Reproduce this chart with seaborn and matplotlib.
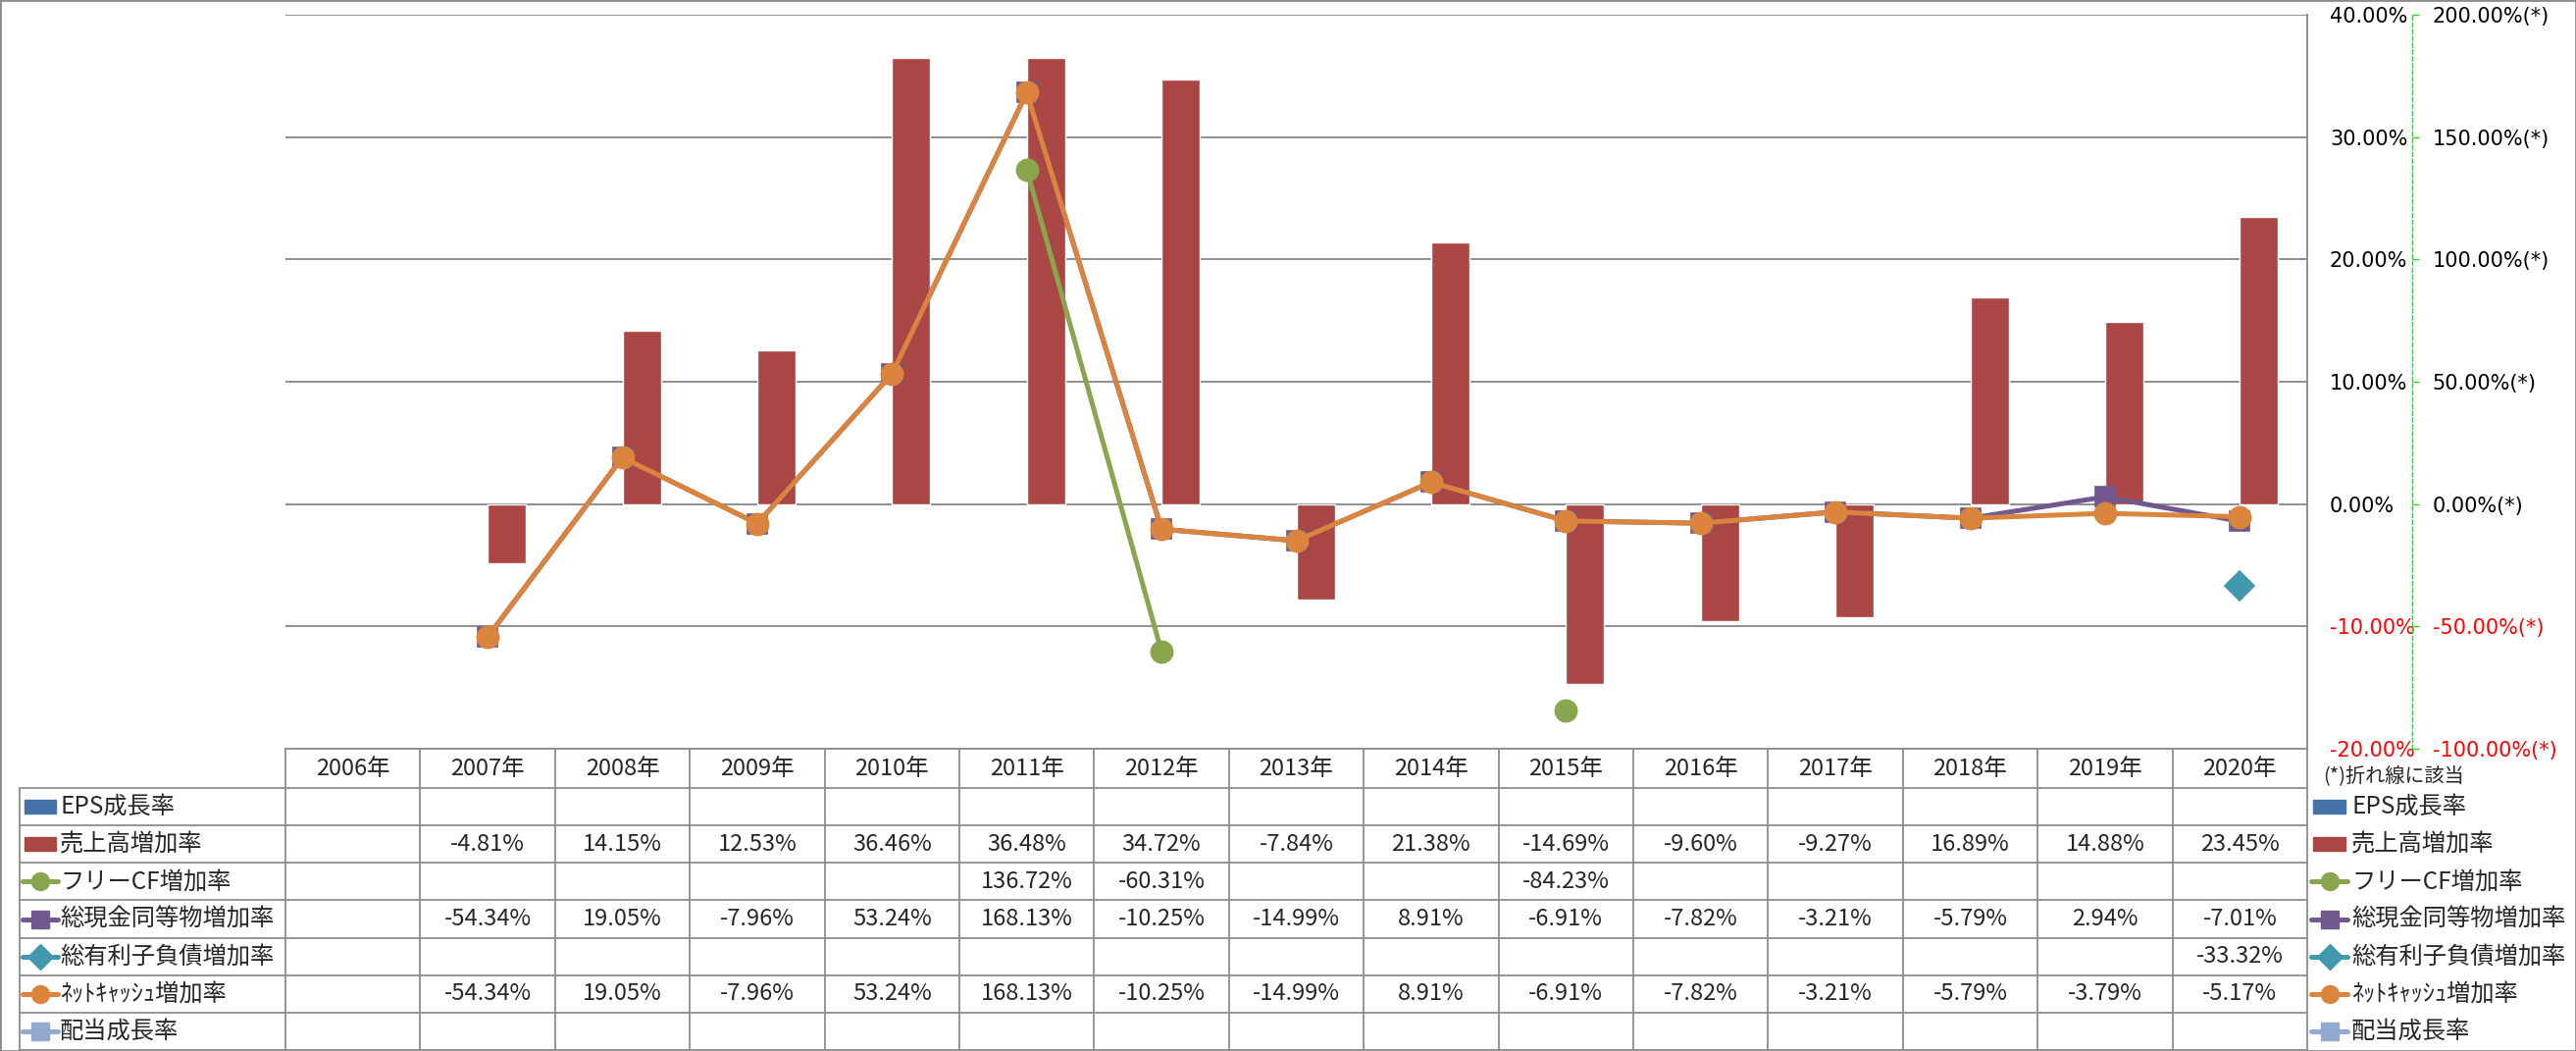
import numpy as np
import pandas as pd
import matplotlib
matplotlib.use("Agg")
import matplotlib.pyplot as plt
from matplotlib.lines import Line2D
from matplotlib.patches import Rectangle
import seaborn as sns

nan = np.nan
years = [f"{y}年" for y in range(2006, 2021)]
series_names = ["EPS成長率", "売上高増加率", "フリーCF増加率", "総現金同等物増加率",
                "総有利子負債増加率", "ﾈｯﾄｷｬｯｼｭ増加率", "配当成長率"]
eps = [nan] * 15
sales = [nan, -4.81, 14.15, 12.53, 36.46, 36.48, 34.72, -7.84, 21.38, -14.69,
         -9.60, -9.27, 16.89, 14.88, 23.45]
fcf = [nan, nan, nan, nan, nan, 136.72, -60.31, nan, nan, -84.23, nan, nan, nan, nan, nan]
cash = [nan, -54.34, 19.05, -7.96, 53.24, 168.13, -10.25, -14.99, 8.91, -6.91,
        -7.82, -3.21, -5.79, 2.94, -7.01]
debt = [nan] * 14 + [-33.32]
netcash = [nan, -54.34, 19.05, -7.96, 53.24, 168.13, -10.25, -14.99, 8.91, -6.91,
           -7.82, -3.21, -5.79, -3.79, -5.17]
dividend = [nan] * 15
left_ticks = [-20, -10, 0, 10, 20, 30, 40]
right_ticks = [-100, -50, 0, 50, 100, 150, 200]

colors = dict(zip(series_names, ["#4572A7", "#AA4643", "#89A54E", "#71588F",
                                 "#4198AF", "#DB843D", "#93A9CF"]))
markers = dict(zip(series_names[2:], ["o", "s", "D", "o", "s"]))
all_values = [eps, sales, fcf, cash, debt, netcash, dividend]

sns.set_theme(style="white")
plt.rcParams["font.family"] = ["DejaVu Sans"]
TABFONT = ["Liberation Sans Narrow", "Noto Sans CJK JP", "DejaVu Sans"]

W, H = 2626, 1071
fig = plt.figure(figsize=(W / 100, H / 100), dpi=100)
fig.patch.set_facecolor("white")

# pixel overlay for the data table
tab = fig.add_axes([0, 0, 1, 1])
tab.set_xlim(0, W)
tab.set_ylim(H, 0)
tab.axis("off")
tab.set_zorder(0)

PL, PR, PT, PB = 291, 2352, 15, 763
ax = fig.add_axes([PL / W, (H - PB) / H, (PR - PL) / W, (PB - PT) / H])
ax.set_zorder(1)

df = pd.DataFrame({"year": years, "value": sales, "series": "売上高増加率"}).dropna()
sns.barplot(data=df, x="year", y="value", hue="series", order=years,
            hue_order=["EPS成長率", "売上高増加率"], palette=colors, width=0.57,
            dodge=True, gap=0, saturation=1, errorbar=None, legend=False, ax=ax,
            zorder=2)
ax.set_xlim(-0.5, 14.5)
ax.set_ylim(-20, 40)
ax.set_xlabel("")
ax.set_ylabel("")
ax.grid(axis="y", color="#868686", lw=1.3)
ax.set_axisbelow(True)
for s in ["left", "top", "bottom"]:
    ax.spines[s].set_visible(False)
ax.spines["right"].set_color("#868686")
ax.spines["right"].set_linewidth(1.3)

ax2 = ax.twinx()
ax2.set_zorder(2)

# left-scale labels live on the right side too
ax.set_yticks(left_ticks)
ax.set_yticklabels([f"{t:.2f}%" for t in left_ticks])
ax.yaxis.tick_right()
ax.tick_params(axis="y", which="both", left=False, labelleft=False, right=True,
               labelright=True, length=0, pad=16.5, labelsize=15)
for lab, t in zip(ax.get_yticklabels(), left_ticks):
    lab.set_color("red" if t < 0 else "black")
ax.tick_params(axis="x", length=0, labelbottom=False)

ax2.set_ylim(-100, 200)
ax2.set_yticks(right_ticks)
ax2.set_yticklabels([f"{t:.2f}%(*)" for t in right_ticks])
ax2.spines["right"].set_position(("axes", (2459 - PL) / (PR - PL)))
ax2.spines["right"].set_color("#22DD22")
ax2.spines["right"].set_linestyle((0, (3, 2)))
ax2.spines["right"].set_linewidth(1)
for s in ["left", "top", "bottom"]:
    ax2.spines[s].set_visible(False)
ax2.tick_params(axis="y", length=5, width=1, color="#22DD22", pad=10, labelsize=15)
for lab, t in zip(ax2.get_yticklabels(), right_ticks):
    lab.set_color("red" if t < 0 else "black")

xpos = np.arange(len(years))
for name, vals in zip(series_names[2:], all_values[2:]):
    ms = {"o": 16, "s": 15, "D": 15.5}[markers[name]]
    ax2.plot(xpos, vals, color=colors[name], lw=3.6, marker=markers[name],
             markersize=ms, markeredgecolor=colors[name], markeredgewidth=1.2,
             solid_joinstyle="round")

# ---- data table ----
gc = "#8C8C8C"
col_w = (PR - PL) / 15
row_top = 803
row_h = (1070 - row_top) / 7
tab.plot([PL, PR], [PB, PB], color=gc, lw=1.3, clip_on=False)
for i in range(8):
    y = row_top + i * row_h
    tab.plot([20, PR], [y, y], color=gc, lw=1.3, clip_on=False)
tab.plot([20, 20], [row_top, 1070], color=gc, lw=1.3)
for j in range(16):
    x = PL + j * col_w
    tab.plot([x, x], [PB, 1070], color=gc, lw=1.3)
for j, yl in enumerate(years):
    tab.text(PL + (j + 0.5) * col_w, 783, yl, ha="center", va="center",
             fontsize=17, family=TABFONT)


def legend_key(x0, x1, yc, name):
    if name in ("EPS成長率", "売上高増加率"):
        tab.add_patch(Rectangle((x0 + 2, yc - 7), x1 - x0 - 4, 14, color=colors[name]))
    else:
        tab.add_line(Line2D([x0, x1], [yc, yc], color=colors[name], lw=3.6))
        tab.add_line(Line2D([(x0 + x1) / 2], [yc], color=colors[name], lw=0,
                            marker=markers[name], markersize=13,
                            markeredgecolor=colors[name]))


for i, (name, vals) in enumerate(zip(series_names, all_values)):
    yc = row_top + (i + 0.5) * row_h
    legend_key(23, 59, yc, name)
    tab.text(61, yc, name, ha="left", va="center", fontsize=17.5, family=TABFONT)
    for j, v in enumerate(vals):
        if not np.isnan(v):
            tab.text(PL + (j + 0.5) * col_w, yc, f"{v:.2f}%", ha="center",
                     va="center", fontsize=17, family=TABFONT)
    # right legend
    legend_key(2356, 2393, yc, name)
    tab.text(2397, yc, name, ha="left", va="center", fontsize=17.5, family=TABFONT)

tab.text(2368, 792, "(*)折れ線に該当", ha="left", va="center", fontsize=14.5,
         family=TABFONT)

fig.patches.append(Rectangle((0, 0), 1, 1, transform=fig.transFigure, fill=False,
                             edgecolor="#8C8C8C", lw=2))

fig.savefig("out.png", dpi=100)
